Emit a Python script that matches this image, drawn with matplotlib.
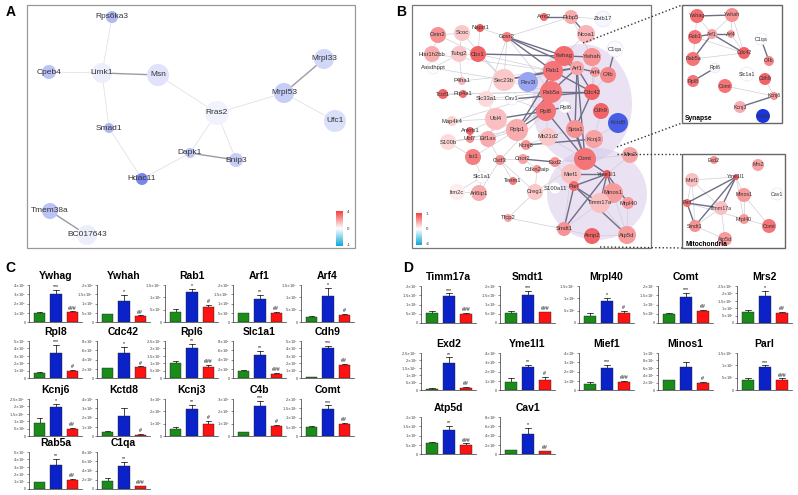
import numpy as np
import matplotlib
matplotlib.use('Agg')
import matplotlib.pyplot as plt
import matplotlib.colors as mcolors
from matplotlib.patches import Circle, Ellipse, Rectangle

plt.rcParams['font.family'] = ['Liberation Sans', 'DejaVu Sans']

# ---------------- DATA ----------------
# Panel A network
A_nodes = ['Rps6ka3', 'Cpeb4', 'Limk1', 'Msn', 'Mrpl33', 'Mrpl53', 'Ufc1', 'Rras2',
           'Smad1', 'Dapk1', 'Bnip3', 'Hdac11', 'Tmem38a', 'BC017643']
A_x = [112, 49, 102, 158, 324, 284, 335, 217, 109, 190, 236, 142, 50, 87]
A_y = [17, 72, 73, 75, 59, 93, 121, 113, 128, 153, 160, 179, 211, 235]
A_size = [6, 7, 10, 11, 10, 10, 11, 12, 5, 5, 7, 6, 8, 10]
A_value = [-0.35, -0.3, -0.08, -0.14, -0.2, -0.25, -0.16, -0.07, -0.35, -0.3, -0.25, -0.6, -0.3, -0.08]
A_edges = [('Rps6ka3', 'Limk1', 0), ('Cpeb4', 'Limk1', 0), ('Limk1', 'Msn', 1), ('Limk1', 'Smad1', 0),
           ('Msn', 'Rras2', 0), ('Rras2', 'Mrpl53', 0), ('Mrpl53', 'Mrpl33', 1), ('Mrpl53', 'Ufc1', 0),
           ('Rras2', 'Dapk1', 0), ('Rras2', 'Bnip3', 0), ('Dapk1', 'Bnip3', 1), ('Dapk1', 'Hdac11', 0),
           ('Smad1', 'Hdac11', 0), ('Tmem38a', 'BC017643', 1)]

# Panel B main network
B_nodes = ['Arnt2', 'Fkbp5', 'Zbtb17', 'Naprt1', 'Cetn2', 'Scoc', 'Ncoa1', 'Gosr2', 'C1qa', 'Hist1h2bb',
           'Tubg2', 'Cbx1', 'Ywhag', 'Ywhah', 'Aasdhppt', 'Rab1', 'Arf1', 'Arf4', 'C4b', 'Sec23b',
           'Rev3l', 'P4ha1', 'Tcof1', 'Ptp4a1', 'Rab5a', 'Cdc42', 'Slc33a1', 'Cav1', 'Rpl8', 'Rpl6',
           'Cdh9', 'Map4k4', 'Ubl4', 'Rplp1', 'Kctd8', 'Ankrb1', 'Spta1', 'Mb21d2', 'S100b', 'Ubl7',
           'Eif1ax', 'Kcnj3', 'Kcnj6', 'Comt', 'Mrs2', 'Ist1', 'Cstf3', 'Cnot2', 'Exd2', 'Mief1',
           'Cdkn2aip', 'Slc1a1', 'Tenm1', 'Yme1l1', 'Itm2c', 'Arl6ip1', 'Creg1', 'S100a11', 'Parl', 'Minos1',
           'Timm17a', 'Mrpl40', 'Tfcp2', 'Smdt1', 'Aimp2', 'Atp5d']
B_x = [544, 571, 603, 480, 438, 462, 586, 507, 615, 432,
       459, 478, 564, 592, 433, 553, 577, 595, 608, 504,
       528, 462, 443, 463, 551, 592, 486, 512, 546, 565,
       601, 452, 496, 517, 618, 470, 575, 548, 448, 470,
       488, 594, 526, 585, 630, 473, 500, 523, 555, 571,
       537, 482, 513, 607, 457, 479, 535, 555, 574, 613,
       600, 628, 508, 564, 592, 627]
B_y = [17, 17, 19, 28, 35, 33, 34, 37, 49, 54,
       54, 54, 56, 57, 68, 71, 68, 72, 75, 80,
       82, 81, 94, 94, 92, 92, 99, 99, 111, 107,
       111, 121, 119, 130, 123, 131, 129, 137, 142, 139,
       139, 139, 145, 159, 155, 157, 160, 159, 162, 174,
       169, 177, 181, 174, 192, 193, 192, 188, 186, 193,
       203, 203, 218, 229, 236, 235]
B_size = [4, 7, 8, 4, 8, 8, 9, 5, 8, 8,
          8, 8, 10, 9, 6, 10, 7, 5, 8, 11,
          10, 4, 5, 4, 11, 8, 8, 6, 10, 6,
          8, 5, 11, 11, 10, 4, 9, 9, 8, 4,
          8, 9, 5, 11, 8, 8, 5, 5, 5, 10,
          4, 6, 4, 4, 8, 8, 8, 6, 5, 10,
          10, 6, 4, 7, 8, 9]
B_value = [0.8, 0.45, -0.04, 0.9, 0.6, 0.3, 0.4, 0.7, -0.02, 0.45,
           0.3, 0.85, 0.8, 0.6, 0.0, 0.75, 0.5, 0.55, 0.65, 0.3,
           -0.45, 0.4, 0.85, 0.8, 0.75, 0.85, 0.2, 0.0, 0.75, 0.0,
           0.85, 0.25, 0.35, 0.45, -0.8, 0.85, 0.6, 0.3, 0.2, 0.6,
           0.45, 0.5, 0.6, 0.75, 0.5, 0.7, 0.6, 0.5, 0.6, 0.35,
           0.6, 0.0, 0.7, 0.9, 0.1, 0.45, 0.3, 0.0, 0.8, 0.55,
           0.35, 0.55, 0.5, 0.6, 0.85, 0.55]
B_edges = [('Gosr2', 'Ywhag', 1), ('Gosr2', 'Rab1', 1), ('Gosr2', 'Arf1', 1), ('Sec23b', 'Rab1', 1),
           ('Sec23b', 'Arf1', 1), ('Cbx1', 'Ywhag', 1), ('Ywhag', 'Ywhah', 1), ('Ywhag', 'Arf1', 1),
           ('Rab1', 'Arf1', 1), ('Arf1', 'Arf4', 1), ('Arf1', 'Cdc42', 1), ('Rab5a', 'Arf1', 1),
           ('Rab5a', 'Cdc42', 1), ('Rab1', 'Cdc42', 1), ('C1qa', 'C4b', 1), ('Rpl8', 'Rplp1', 1),
           ('Rpl8', 'Ubl4', 1), ('Rpl8', 'Rpl6', 1), ('Rplp1', 'Rab5a', 1), ('Cav1', 'Cdc42', 1),
           ('Kcnj6', 'Kcnj3', 1), ('Arf1', 'Spta1', 1), ('Spta1', 'Cdc42', 1), ('Comt', 'Yme1l1', 1),
           ('Yme1l1', 'Parl', 1), ('Yme1l1', 'Smdt1', 1), ('Yme1l1', 'Timm17a', 1), ('Yme1l1', 'Mief1', 1),
           ('Yme1l1', 'Minos1', 1), ('Yme1l1', 'Mrpl40', 1), ('Parl', 'Smdt1', 1), ('Parl', 'Timm17a', 1),
           ('Rpl8', 'Comt', 1), ('Rpl6', 'Comt', 1), ('Arf1', 'Comt', 1), ('Rab1', 'Rplp1', 1),
           ('Fkbp5', 'Ncoa1', 1), ('Arnt2', 'Fkbp5', 1), ('Rab1', 'Ywhag', 1), ('Parl', 'Atp5d', 1),
           ('Cetn2', 'Scoc', 0), ('Cetn2', 'Hist1h2bb', 0), ('Scoc', 'Tubg2', 0), ('Tubg2', 'Cbx1', 0),
           ('Hist1h2bb', 'Aasdhppt', 0), ('Tubg2', 'P4ha1', 0), ('Aasdhppt', 'Sec23b', 0), ('Scoc', 'Sec23b', 0),
           ('Cbx1', 'Sec23b', 0), ('Naprt1', 'Cbx1', 0), ('Naprt1', 'Gosr2', 0), ('Gosr2', 'Fkbp5', 0),
           ('Gosr2', 'Sec23b', 0), ('Gosr2', 'Slc33a1', 0), ('Tcof1', 'Ptp4a1', 0), ('Ptp4a1', 'Rab5a', 0),
           ('P4ha1', 'Rab1', 0), ('Slc33a1', 'Ubl4', 0), ('Slc33a1', 'Cav1', 0), ('Sec23b', 'Rev3l', 0),
           ('Rev3l', 'Rab1', 0), ('Map4k4', 'Ubl4', 0), ('Ubl4', 'Rplp1', 0), ('Ubl4', 'Eif1ax', 0),
           ('Ankrb1', 'Ubl4', 0), ('S100b', 'Ubl7', 0), ('S100b', 'Ist1', 0), ('Ubl7', 'Eif1ax', 0),
           ('Eif1ax', 'Rplp1', 0), ('Eif1ax', 'Cstf3', 0), ('Ist1', 'Slc1a1', 0), ('Cstf3', 'Cnot2', 0),
           ('Cnot2', 'Exd2', 1), ('Cnot2', 'Cdkn2aip', 0), ('Cdkn2aip', 'Creg1', 0), ('Creg1', 'S100a11', 0),
           ('Tenm1', 'Cstf3', 0), ('Slc1a1', 'Itm2c', 0), ('Itm2c', 'Arl6ip1', 0), ('Arl6ip1', 'Slc1a1', 0),
           ('Tfcp2', 'Creg1', 0), ('Tfcp2', 'Smdt1', 0), ('Mb21d2', 'Rpl8', 0), ('Mb21d2', 'Spta1', 0),
           ('Mb21d2', 'Comt', 0), ('Kcnj6', 'Rplp1', 0), ('Kcnj6', 'Mb21d2', 0), ('Kctd8', 'Kcnj3', 0),
           ('Mrs2', 'Comt', 0), ('Mrs2', 'Yme1l1', 0), ('Mief1', 'Parl', 0), ('Mief1', 'Comt', 0),
           ('Minos1', 'Mrpl40', 0), ('Minos1', 'Atp5d', 0), ('Timm17a', 'Atp5d', 0), ('Timm17a', 'Smdt1', 0),
           ('Smdt1', 'Aimp2', 0), ('Aimp2', 'Atp5d', 0), ('Mrpl40', 'Atp5d', 0), ('S100a11', 'Parl', 0),
           ('Zbtb17', 'Fkbp5', 0), ('Ywhah', 'Arf4', 0), ('Ywhah', 'Fkbp5', 0), ('Ncoa1', 'Ywhag', 0),
           ('Cetn2', 'Cbx1', 0), ('Aasdhppt', 'Tubg2', 0), ('Hist1h2bb', 'Rab1', 0), ('Tcof1', 'Rab5a', 0),
           ('Cav1', 'Rpl8', 0), ('Slc33a1', 'Rab5a', 0), ('Ist1', 'Rplp1', 0), ('S100b', 'Rplp1', 0),
           ('Map4k4', 'Rab5a', 0), ('Eif1ax', 'Rpl8', 0), ('Ubl7', 'Rpl8', 0), ('Cstf3', 'Rpl8', 0),
           ('Creg1', 'Comt', 0), ('Exd2', 'Comt', 0), ('Exd2', 'Parl', 0), ('Spta1', 'Comt', 1),
           ('Ywhah', 'Cdc42', 0), ('Arf4', 'Cdc42', 0), ('C4b', 'Cdc42', 0), ('Cdh9', 'Kcnj3', 0),
           ('Arl6ip1', 'Cstf3', 0), ('Cstf3', 'Creg1', 0), ('Gosr2', 'Rab5a', 0), ('Cbx1', 'Rab1', 0),
           ('Sec23b', 'Rab5a', 0), ('Kcnj3', 'Comt', 0), ('Mief1', 'Smdt1', 0), ('Rpl6', 'Spta1', 0)]

# Synapse sub-network
S_nodes = ['Ywhag', 'Ywhah', 'Rab1', 'Arf1', 'Arf4', 'C1qa', 'Cdc42', 'C4b', 'Rab5a', 'Rpl6',
           'Slc1a1', 'Rpl8', 'Comt', 'Cdh9', 'Kcnj6', 'Kcnj3', 'Kctd8']
S_x = [697, 732, 695, 712, 731, 761, 744, 769, 693, 715, 747, 693, 725, 765, 774, 740, 763]
S_y = [16, 15, 37, 34, 34, 39, 53, 61, 59, 68, 74, 81, 86, 79, 96, 107, 116]
S_size = [7, 7, 7, 5, 4, 6, 6, 5, 7, 5, 7, 6, 7, 6, 4, 6, 7]
S_value = [0.8, 0.6, 0.75, 0.5, 0.55, 0.0, 0.85, 0.65, 0.75, -0.03, 0.0, 0.75, 0.75, 0.85, 0.6, 0.45, -1.0]
S_edges = [('Ywhag', 'Ywhah', 1), ('Ywhag', 'Arf1', 0), ('Ywhag', 'Rab1', 0), ('Rab1', 'Arf1', 1),
           ('Arf1', 'Arf4', 1), ('Arf1', 'Cdc42', 1), ('Arf4', 'Cdc42', 0), ('Ywhah', 'Cdc42', 0),
           ('Ywhah', 'Arf4', 0), ('Rab5a', 'Arf1', 1), ('Rab5a', 'Cdc42', 0), ('Rab1', 'Cdc42', 0),
           ('C1qa', 'C4b', 1), ('Rpl6', 'Rpl8', 1), ('Kcnj6', 'Kcnj3', 1), ('Comt', 'Kcnj6', 0),
           ('Ywhah', 'Arf1', 0), ('Rab1', 'Rab5a', 0), ('Cdh9', 'Kcnj6', 0)]

# Mitochondria sub-network
M_nodes = ['Exd2', 'Mrs2', 'Mief1', 'Yme1l1', 'Minos1', 'Cav1', 'Parl', 'Timm17a', 'Mrpl40',
           'Comt', 'Smdt1', 'Atp5d']
M_x = [714, 758, 692, 736, 744, 777, 687, 721, 744, 769, 695, 725]
M_y = [160, 165, 180, 177, 195, 194, 203, 208, 219, 226, 226, 239]
M_size = [4, 6, 7, 3, 7, 6, 4, 7, 5, 7, 6, 7]
M_value = [0.6, 0.5, 0.35, 0.9, 0.55, 0.0, 0.8, 0.35, 0.55, 0.75, 0.6, 0.55]
M_edges = [('Yme1l1', 'Mief1', 0), ('Yme1l1', 'Parl', 1), ('Yme1l1', 'Smdt1', 1), ('Yme1l1', 'Timm17a', 1),
           ('Yme1l1', 'Minos1', 0), ('Yme1l1', 'Mrpl40', 0), ('Parl', 'Timm17a', 1), ('Parl', 'Smdt1', 1),
           ('Parl', 'Mief1', 0), ('Parl', 'Mrpl40', 0), ('Mief1', 'Timm17a', 0), ('Timm17a', 'Atp5d', 0),
           ('Mrpl40', 'Comt', 0), ('Minos1', 'Mrpl40', 0), ('Smdt1', 'Atp5d', 0), ('Minos1', 'Comt', 0),
           ('Timm17a', 'Smdt1', 0), ('Mief1', 'Smdt1', 0)]

# Panel C bar charts (Control, Model, Treatment), values in units of 10^exp
C_genes = ['Ywhag', 'Ywhah', 'Rab1', 'Arf1', 'Arf4', 'Rpl8', 'Cdc42', 'Rpl6', 'Slc1a1', 'Cdh9',
           'Kcnj6', 'Kctd8', 'Kcnj3', 'C4b', 'Comt', 'Rab5a', 'C1qa']
C_ctrl = [1.0, 0.42, 0.4, 0.48, 0.22, 0.7, 2.1, 1.0, 1.6, 0.1, 0.9, 0.45, 0.6, 0.3, 0.5, 0.95, 1.8]
C_model = [3.0, 1.15, 1.2, 1.25, 1.07, 3.35, 5.5, 2.0, 5.0, 4.0, 1.95, 2.15, 2.2, 2.45, 1.45, 3.3, 5.0]
C_treat = [1.1, 0.33, 0.6, 0.5, 0.28, 1.0, 2.3, 0.75, 0.9, 1.7, 0.5, 0.1, 1.0, 0.8, 0.65, 1.15, 0.6]
C_ctrl_err = [0.05, 0.03, 0.12, 0.02, 0.04, 0.1, 0.1, 0.15, 0.15, 0.05, 0.3, 0.1, 0.1, 0.05, 0.05, 0.05, 0.5]
C_model_err = [0.45, 0.3, 0.15, 0.2, 0.32, 1.1, 1.3, 0.3, 0.8, 0.3, 0.2, 0.9, 0.3, 0.4, 0.2, 0.75, 0.8]
C_treat_err = [0.05, 0.03, 0.1, 0.05, 0.06, 0.1, 0.2, 0.15, 0.15, 0.2, 0.03, 0.15, 0.2, 0.1, 0.06, 0.2, 0.1]
C_star = ['***', '*', '*', '**', '*', '***', '*', '**', '**', '***', '*', '', '**', '***', '***', '**', '**']
C_hash = ['###', '##', '#', '##', '#', '#', '#', '###', '###', '##', '##', '#', '#', '#', '##', '##', '###']
C_top = [4, 2, 1.5, 2, 1.5, 5, 8, 2.5, 8, 5, 2.5, 4, 3, 3, 2, 5, 8]
C_step = [1, 0.5, 0.5, 0.5, 0.5, 1, 2, 0.5, 2, 1, 0.5, 1, 1, 1, 0.5, 1, 2]
C_exp = [6, 8, 8, 8, 6, 7, 7, 7, 5, 7, 6, 5, 8, 6, 7, 7, 5]

# Panel D bar charts
D_genes = ['Timm17a', 'Smdt1', 'Mrpl40', 'Comt', 'Mrs2', 'Exd2', 'Yme1l1', 'Mief1', 'Minos1', 'Parl',
           'Atp5d', 'Cav1']
D_ctrl = [0.55, 0.55, 0.3, 0.48, 0.76, 0.1, 0.9, 0.7, 2.6, 0.4, 0.6, 0.9]
D_model = [1.45, 1.5, 0.9, 1.43, 1.83, 1.8, 2.5, 2.4, 6.1, 0.92, 1.3, 4.4]
D_treat = [0.5, 0.58, 0.42, 0.63, 0.65, 0.15, 1.1, 0.9, 2.0, 0.42, 0.5, 0.6]
D_ctrl_err = [0.1, 0.1, 0.1, 0.05, 0.12, 0.02, 0.35, 0.15, 0.2, 0.08, 0.05, 0.05]
D_model_err = [0.15, 0.25, 0.12, 0.2, 0.35, 0.4, 0.25, 0.3, 1.6, 0.08, 0.2, 1.3]
D_treat_err = [0.03, 0.03, 0.08, 0.08, 0.08, 0.05, 0.3, 0.1, 0.2, 0.05, 0.08, 0.15]
D_star = ['***', '***', '*', '***', '*', '**', '**', '***', '', '***', '**', '*']
D_hash = ['###', '###', '#', '##', '##', '##', '#', '###', '#', '###', '###', '##']
D_top = [2, 2, 1.5, 2, 2.5, 2.5, 4, 4, 10, 1.5, 2, 8]
D_step = [0.5, 0.5, 0.5, 0.5, 0.5, 0.5, 1, 1, 2, 0.5, 0.5, 2]
D_exp = [7, 7, 6, 7, 6, 6, 5, 6, 6, 6, 7, 5]

# ---------------- FIGURE ----------------
W, H = 798, 495
fig = plt.figure(figsize=(W / 100, H / 100), dpi=100)
cv = fig.add_axes([0, 0, 1, 1])
cv.set_xlim(0, W)
cv.set_ylim(H, 0)
cv.axis('off')

node_cmap = mcolors.LinearSegmentedColormap.from_list('nd', ['#1a35e0', '#ffffff', '#f0484c'])
node_norm = mcolors.TwoSlopeNorm(vmin=-1, vcenter=0, vmax=1)


def frac(x0, y0, w, h):
    return [x0 / W, 1 - (y0 + h) / H, w / W, h / H]


def draw_net(names, xs, ys, sizes, vals, edges, fs, light='#cfcfd8', dark='#6e6e86'):
    pos = {n: (x, y) for n, x, y in zip(names, xs, ys)}
    for a, b, d in edges:
        (x1, y1), (x2, y2) = pos[a], pos[b]
        cv.plot([x1, x2], [y1, y2], color=dark if d else light, lw=1.0 if d else 0.5, zorder=2 if d else 1)
    for n, x, y, r, v in zip(names, xs, ys, sizes, vals):
        col = node_cmap(node_norm(v))
        ec = '#e2e2ee' if abs(v) < 0.05 else 'none'
        cv.add_patch(Circle((x, y), r, facecolor=col, edgecolor=ec, lw=0.4, zorder=3))
        cv.text(x, y, n, ha='center', va='center', fontsize=fs, color='#333333', zorder=4)


# Panel A
cv.add_patch(Rectangle((27, 5), 328, 243, fill=False, edgecolor='#999999', lw=0.9, zorder=0))
draw_net(A_nodes, A_x, A_y, A_size, A_value, A_edges, 6, light='#dcdce4', dark='#9a9aa6')
cv.text(6, 12, 'A', fontsize=10, fontweight='bold', va='center')

# Panel B main
cv.add_patch(Ellipse((582, 104), 100, 120, facecolor='#d9c9ea', alpha=0.55, edgecolor='none', zorder=0))
cv.add_patch(Ellipse((597, 194), 100, 92, facecolor='#d9c9ea', alpha=0.55, edgecolor='none', zorder=0))
cv.add_patch(Rectangle((412, 5), 239, 243, fill=False, edgecolor='#777777', lw=0.9, zorder=5))
draw_net(B_nodes, B_x, B_y, B_size, B_value, B_edges, 4.2)
cv.text(396, 12, 'B', fontsize=10, fontweight='bold', va='center')

# Synapse and Mitochondria insets
cv.add_patch(Rectangle((682, 5), 100, 118, fill=False, edgecolor='#666666', lw=1.0, zorder=5))
draw_net(S_nodes, S_x, S_y, S_size, S_value, S_edges, 3.8)
cv.text(685, 119, 'Synapse', fontsize=4.8, fontweight='bold', va='center', zorder=6)
cv.add_patch(Rectangle((682, 154), 103, 94, fill=False, edgecolor='#666666', lw=1.0, zorder=5))
draw_net(M_nodes, M_x, M_y, M_size, M_value, M_edges, 3.8)
cv.text(685, 245, 'Mitochondria', fontsize=4.8, fontweight='bold', va='center', zorder=6)

for (x1, y1, x2, y2) in [(583, 43, 682, 5), (617, 147, 682, 123), (617, 154, 682, 154), (600, 247, 682, 248)]:
    cv.plot([x1, x2], [y1, y2], ls=':', color='#333333', lw=1.0, zorder=5)

# colour bars
bar_cmap = mcolors.LinearSegmentedColormap.from_list('cb', ['#10a8d8', '#ffffff', '#f24444'])
grad = np.linspace(1, 0, 64)[:, None]
for (bx, by, bw, bh, labs) in [(336, 211, 7, 35, ['4', '0', '-1']), (416, 213, 6, 32, ['1', '0', '-6'])]:
    cax = fig.add_axes(frac(bx, by, bw, bh))
    cax.imshow(grad, aspect='auto', cmap=bar_cmap)
    cax.set_xticks([])
    cax.set_yticks([])
    for s in cax.spines.values():
        s.set_visible(False)
    for lab, yy in zip(labs, [by + 1, by + bh / 2, by + bh - 1]):
        cv.text(bx + bw + 4, yy, lab, fontsize=3.2, va='center', color='#333333')

# ---------------- BAR PANELS ----------------
bar_colors = ['#1a8c1a', '#0a22c8', '#ff1212']


def sci_label(v, exp):
    if v == 0:
        return '0'
    val = v * 10 ** exp
    k = int(np.floor(np.log10(val) + 1e-9))
    m = val / 10 ** k
    return r'$%s{\times}10^{%d}$' % (('%g' % round(m, 2)), k)


def bar_panel(left, bottom, w, h, title, vals, errs, star, hsh, top, step, exp):
    ax = fig.add_axes(frac(left, bottom - h, w, h))
    x = np.arange(3)
    ax.bar(x, vals, width=0.7, color=bar_colors, edgecolor='#222222', linewidth=0.3, zorder=2)
    for xi, v, e in zip(x, vals, errs):
        ax.plot([xi, xi], [v, v + e], color='black', lw=0.5, zorder=1, clip_on=False)
        ax.plot([xi - 0.16, xi + 0.16], [v + e, v + e], color='black', lw=0.5, zorder=1, clip_on=False)
    off = top * 0.02
    if star:
        ax.text(1, vals[1] + errs[1] + off, star, ha='center', va='bottom', fontsize=3.8, clip_on=False)
    if hsh:
        ax.text(2, vals[2] + errs[2] + off, hsh, ha='center', va='bottom', fontsize=3.8, clip_on=False)
    ticks = np.arange(0, top + step / 2, step)
    ax.set_yticks(ticks)
    ax.set_yticklabels([sci_label(t, exp) for t in ticks])
    ax.set_xticks([])
    ax.set_xlim(-0.65, 2.6)
    ax.set_ylim(0, top)
    ax.spines['top'].set_visible(False)
    ax.spines['right'].set_visible(False)
    for s in ['left', 'bottom']:
        ax.spines[s].set_linewidth(0.5)
        ax.spines[s].set_color('#333333')
    ax.tick_params(axis='y', labelsize=2.5, length=1.5, width=0.4, pad=0.8, colors='#333333')
    ax.set_title(title, fontsize=7.5, fontweight='bold', pad=4)
    ax.patch.set_alpha(0)


C_bottoms = [322, 378, 436, 489]
for i, g in enumerate(C_genes):
    r, c = divmod(i, 5)
    bar_panel(29 + 68 * c, C_bottoms[r], 53, 37, g,
              [C_ctrl[i], C_model[i], C_treat[i]], [C_ctrl_err[i], C_model_err[i], C_treat_err[i]],
              C_star[i], C_hash[i], C_top[i], C_step[i], C_exp[i])

D_bottoms = [323, 390, 454]
for i, g in enumerate(D_genes):
    r, c = divmod(i, 5)
    bar_panel(421 + 79 * c, D_bottoms[r], 55, 37, g,
              [D_ctrl[i], D_model[i], D_treat[i]], [D_ctrl_err[i], D_model_err[i], D_treat_err[i]],
              D_star[i], D_hash[i], D_top[i], D_step[i], D_exp[i])

cv.text(5, 268, 'C', fontsize=10, fontweight='bold', va='center')
cv.text(403, 268, 'D', fontsize=10, fontweight='bold', va='center')

fig.savefig('out.png', dpi=100)
